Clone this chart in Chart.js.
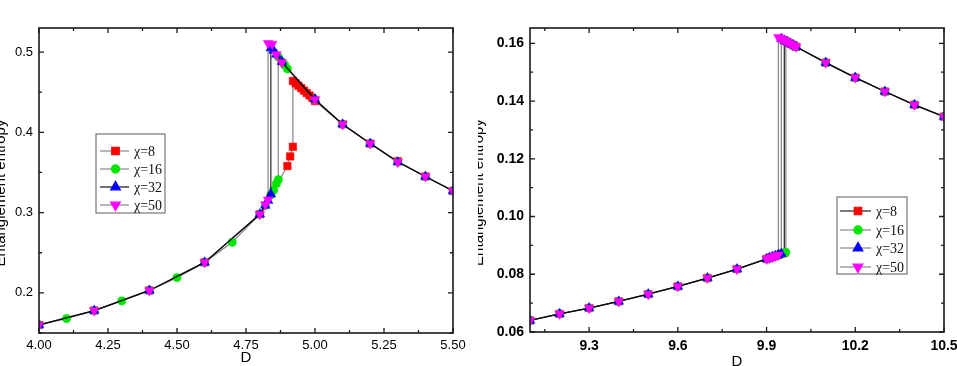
<!DOCTYPE html>
<html>
<head>
<meta charset="utf-8">
<script src="https://cdn.jsdelivr.net/npm/chart.js@4.4.0/dist/chart.umd.min.js"></script>
<style>
	body { margin: 0; background: #fff; }
	.panel { position: absolute; top: 0; height: 366px; }
</style>
</head>
<body>
<div class="panel" style="left:0;width:478px"><canvas id="leftChart" width="478" height="366"></canvas></div>
<div class="panel" style="left:478px;width:479px"><canvas id="rightChart" width="479" height="366"></canvas></div>
<script>
// ---- data ----
const seriesNames = ["χ=8", "χ=16", "χ=32", "χ=50"];

// left panel (D around 4.8)
const leftD8 = [4.0, 4.2, 4.4, 4.6, 4.8, 4.9, 4.91, 4.92, 4.92, 4.93, 4.94, 4.95, 4.96, 4.97, 4.98, 4.99, 5.0, 5.1, 5.2, 5.3, 5.4, 5.5];
const leftS8 = [0.160, 0.178, 0.203, 0.238, 0.298, 0.358, 0.370, 0.382, 0.464, 0.461, 0.458, 0.455, 0.452, 0.449, 0.446, 0.443, 0.439, 0.410, 0.386, 0.364, 0.345, 0.327];
const leftD16 = [4.0, 4.1, 4.2, 4.3, 4.4, 4.5, 4.6, 4.7, 4.8, 4.82, 4.84, 4.85, 4.86, 4.867, 4.867, 4.88, 4.89, 4.9, 5.0, 5.1, 5.2, 5.3, 5.4, 5.5];
const leftS16 = [0.160, 0.168, 0.178, 0.190, 0.203, 0.219, 0.238, 0.263, 0.298, 0.309, 0.322, 0.328, 0.336, 0.341, 0.494, 0.488, 0.484, 0.479, 0.441, 0.410, 0.386, 0.363, 0.345, 0.327];
const leftD32 = [4.0, 4.2, 4.4, 4.6, 4.8, 4.82, 4.83, 4.84, 4.84, 4.85, 4.86, 4.88, 5.0, 5.1, 5.2, 5.3, 5.4, 5.5];
const leftS32 = [0.160, 0.178, 0.203, 0.238, 0.298, 0.309, 0.315, 0.323, 0.505, 0.502, 0.497, 0.488, 0.441, 0.410, 0.386, 0.363, 0.345, 0.327];
const leftD50 = [4.0, 4.2, 4.4, 4.6, 4.8, 4.82, 4.83, 4.83, 4.845, 4.86, 4.88, 5.0, 5.1, 5.2, 5.3, 5.4, 5.5];
const leftS50 = [0.160, 0.178, 0.203, 0.238, 0.298, 0.310, 0.316, 0.511, 0.510, 0.497, 0.487, 0.441, 0.410, 0.386, 0.363, 0.345, 0.327];

// right panel (D around 9.95)
const rightD8 = [9.1, 9.2, 9.3, 9.4, 9.5, 9.6, 9.7, 9.8, 9.9, 9.91, 9.92, 9.93, 9.94, 9.95, 9.96, 9.96, 9.97, 9.98, 9.99, 10.0, 10.1, 10.2, 10.3, 10.4, 10.5];
const rightS8 = [0.0640, 0.0663, 0.0683, 0.0706, 0.0731, 0.0758, 0.0787, 0.0818, 0.0853, 0.0857, 0.0860, 0.0864, 0.0867, 0.0871, 0.0874, 0.1610, 0.1605, 0.1599, 0.1594, 0.1588, 0.1533, 0.1481, 0.1433, 0.1387, 0.1346];
const rightD16 = [9.1, 9.2, 9.3, 9.4, 9.5, 9.6, 9.7, 9.8, 9.9, 9.91, 9.92, 9.93, 9.94, 9.95, 9.96, 9.965, 9.965, 9.97, 9.98, 9.99, 10.0, 10.1, 10.2, 10.3, 10.4, 10.5];
const rightS16 = [0.0640, 0.0663, 0.0683, 0.0706, 0.0731, 0.0758, 0.0787, 0.0818, 0.0853, 0.0857, 0.0860, 0.0864, 0.0867, 0.0871, 0.0874, 0.0876, 0.1608, 0.1605, 0.1599, 0.1594, 0.1588, 0.1533, 0.1481, 0.1433, 0.1387, 0.1346];
const rightD32 = [9.1, 9.2, 9.3, 9.4, 9.5, 9.6, 9.7, 9.8, 9.9, 9.91, 9.92, 9.93, 9.94, 9.95, 9.95, 9.96, 9.97, 9.98, 9.99, 10.0, 10.1, 10.2, 10.3, 10.4, 10.5];
const rightS32 = [0.0640, 0.0663, 0.0683, 0.0706, 0.0731, 0.0758, 0.0787, 0.0818, 0.0853, 0.0857, 0.0860, 0.0864, 0.0867, 0.0871, 0.1616, 0.1610, 0.1605, 0.1599, 0.1594, 0.1588, 0.1533, 0.1481, 0.1433, 0.1387, 0.1346];
const rightD50 = [9.1, 9.2, 9.3, 9.4, 9.5, 9.6, 9.7, 9.8, 9.9, 9.91, 9.92, 9.93, 9.94, 9.94, 9.95, 9.96, 9.97, 9.98, 9.99, 10.0, 10.1, 10.2, 10.3, 10.4, 10.5];
const rightS50 = [0.0640, 0.0663, 0.0683, 0.0706, 0.0731, 0.0758, 0.0787, 0.0818, 0.0853, 0.0857, 0.0860, 0.0864, 0.0867, 0.1621, 0.1616, 0.1610, 0.1605, 0.1599, 0.1594, 0.1588, 0.1533, 0.1481, 0.1433, 0.1387, 0.1346];

// ticks
const leftXTicks = [4.0, 4.25, 4.5, 4.75, 5.0, 5.25, 5.5];
const leftXLabels = ["4.00", "4.25", "4.50", "4.75", "5.00", "5.25", "5.50"];
const leftXMinor = [4.125, 4.375, 4.625, 4.875, 5.125, 5.375];
const leftYTicks = [0.2, 0.3, 0.4, 0.5];
const leftYLabels = ["0.2", "0.3", "0.4", "0.5"];
const leftYMinor = [0.15, 0.25, 0.35, 0.45];
const rightXTicks = [9.3, 9.6, 9.9, 10.2, 10.5];
const rightXLabels = ["9.3", "9.6", "9.9", "10.2", "10.5"];
const rightXMinor = [9.15, 9.45, 9.75, 10.05, 10.35];
const rightYTicks = [0.06, 0.08, 0.10, 0.12, 0.14, 0.16];
const rightYLabels = ["0.06", "0.08", "0.10", "0.12", "0.14", "0.16"];
const rightYMinor = [0.07, 0.09, 0.11, 0.13, 0.15];

const markerColors = ["#ff0000", "#00e600", "#0000ff", "#ff00ff"];
const markerStyles = ["rect", "circle", "triangle", "triangle"];
const markerRadius = [5.3, 4.1, 5.6, 5.6];
const markerRotation = [0, 0, 0, 180];

const pairs = (xs, ys) => xs.map((x, i) => ({ x: x, y: ys[i] }));

function makeDatasets(list, lineColors) {
	return list.map((pts, i) => ({
		label: seriesNames[i],
		data: pts,
		showLine: true,
		borderColor: lineColors[i],
		borderWidth: 1.3,
		pointStyle: markerStyles[i],
		pointRadius: markerRadius[i],
		pointRotation: markerRotation[i],
		pointBackgroundColor: markerColors[i],
		pointBorderColor: markerColors[i],
		pointBorderWidth: 0.5,
		order: 4 - i,
		clip: 0,
	}));
}

// box and inward ticks on all four sides
const frameTicks = {
	id: "frameTicks",
	afterDatasetsDraw(chart, args, o) {
		const { ctx, chartArea: a } = chart;
		const xs = chart.scales.x, ys = chart.scales.y;
		ctx.save();
		ctx.strokeStyle = "#1a1a1a";
		ctx.lineWidth = 1.6;
		ctx.strokeRect(a.left, a.top, a.right - a.left, a.bottom - a.top);
		ctx.lineWidth = 1.3;
		ctx.beginPath();
		const vx = (vals, len) => vals.forEach((v) => {
			const p = xs.getPixelForValue(v);
			ctx.moveTo(p, a.bottom); ctx.lineTo(p, a.bottom - len);
			ctx.moveTo(p, a.top); ctx.lineTo(p, a.top + len);
		});
		const vy = (vals, len) => vals.forEach((v) => {
			const p = ys.getPixelForValue(v);
			ctx.moveTo(a.left, p); ctx.lineTo(a.left + len, p);
			ctx.moveTo(a.right, p); ctx.lineTo(a.right - len, p);
		});
		vx(o.xMajor, 5); vx(o.xMinor, 3);
		vy(o.yMajor, 5); vy(o.yMinor, 3);
		ctx.stroke();
		ctx.restore();
	},
};

// legend box inside the plot
const boxLegend = {
	id: "boxLegend",
	afterDraw(chart, args, o) {
		const ctx = chart.ctx;
		ctx.save();
		ctx.fillStyle = "#fff";
		ctx.fillRect(o.x, o.y, o.w, o.h);
		ctx.strokeStyle = "#777";
		ctx.lineWidth = 1.2;
		ctx.strokeRect(o.x, o.y, o.w, o.h);
		chart.data.datasets.forEach((ds, i) => {
			const ry = o.rows[i];
			ctx.strokeStyle = o.lineColors[i];
			ctx.lineWidth = 1.2;
			ctx.beginPath();
			ctx.moveTo(o.lineX0, ry);
			ctx.lineTo(o.lineX1, ry);
			ctx.stroke();
			ctx.fillStyle = markerColors[i];
			ctx.strokeStyle = markerColors[i];
			Chart.helpers.drawPoint(ctx, {
				pointStyle: markerStyles[i],
				radius: markerRadius[i],
				rotation: markerRotation[i],
				borderWidth: 0.5,
			}, o.markX, ry);
			ctx.fillStyle = "#111";
			ctx.font = "14px 'Liberation Serif', 'DejaVu Serif', serif";
			ctx.textBaseline = "middle";
			ctx.fillText(ds.label, o.textX, ry + 1);
		});
		ctx.restore();
	},
};

function axisOptions(cfg) {
	return {
		x: {
			type: "linear",
			min: cfg.xMin,
			max: cfg.xMax,
			// fixed height; let the last label run off the edge like the original
			afterFit: (s) => { s.height = cfg.xHeight; s.paddingLeft = 0; s.paddingRight = 0; },
			afterBuildTicks: (s) => { s.ticks = cfg.xTicks.map((v) => ({ value: v })); },
			grid: { display: false, drawTicks: false },
			border: { display: false },
			ticks: {
				autoSkip: false,
				maxRotation: 0,
				padding: cfg.xPad,
				color: "#000",
				font: { family: "'Liberation Sans', Arial, sans-serif", size: cfg.tickSize, weight: cfg.weight },
				callback: (v, i) => cfg.xLabels[i],
			},
			title: {
				display: true,
				text: "D",
				color: "#000",
				padding: { top: 0, bottom: cfg.dPad },
				font: { family: "'Liberation Sans', Arial, sans-serif", size: 15 },
			},
		},
		y: {
			type: "linear",
			min: cfg.yMin,
			max: cfg.yMax,
			afterFit: (s) => { s.width = cfg.yWidth; s.paddingTop = 0; s.paddingBottom = 0; },
			afterBuildTicks: (s) => { s.ticks = cfg.yTicks.map((v) => ({ value: v })); },
			grid: { display: false, drawTicks: false },
			border: { display: false },
			ticks: {
				autoSkip: false,
				padding: cfg.yPad,
				color: "#000",
				font: { family: "'Liberation Sans', Arial, sans-serif", size: cfg.tickSize, weight: cfg.weight },
				callback: (v, i) => cfg.yLabels[i],
			},
			title: {
				display: true,
				// trailing spaces nudge the visible words a little lower, as in the original
				text: "Entanglement entropy      ",
				color: "#000",
				padding: { top: -8, bottom: 0 },
				font: { family: "'Liberation Sans', Arial, sans-serif", size: 15 },
			},
		},
	};
}

const leftLines = ["rgba(0,0,0,0.45)", "rgba(0,0,0,0.45)", "rgba(0,0,0,0.8)", "rgba(0,0,0,0.45)"];
const rightLines = ["rgba(0,0,0,0.8)", "rgba(0,0,0,0.45)", "rgba(0,0,0,0.45)", "rgba(0,0,0,0.45)"];

new Chart(document.getElementById("leftChart"), {
	type: "scatter",
	data: {
		datasets: makeDatasets(
			[pairs(leftD8, leftS8), pairs(leftD16, leftS16), pairs(leftD32, leftS32), pairs(leftD50, leftS50)],
			leftLines
		),
	},
	options: {
		responsive: false,
		animation: false,
		layout: { padding: { top: 28, right: 25, left: 0, bottom: 0 } },
		scales: axisOptions({
			xMin: 4.0, xMax: 5.5, yMin: 0.15, yMax: 0.53,
			xTicks: leftXTicks, xLabels: leftXLabels, yTicks: leftYTicks, yLabels: leftYLabels,
			xHeight: 33, yWidth: 39, xPad: 5, yPad: 6, dPad: -1, weight: "normal", tickSize: 13,
		}),
		plugins: {
			legend: { display: false },
			tooltip: { enabled: false },
			frameTicks: { xMajor: leftXTicks, xMinor: leftXMinor, yMajor: leftYTicks, yMinor: leftYMinor },
			boxLegend: {
				x: 96, y: 134, w: 69, h: 79,
				rows: [151, 169, 187, 205],
				lineX0: 100, lineX1: 129, markX: 115.5, textX: 134,
				lineColors: ["#888", "#888", "#111", "#888"],
			},
		},
	},
	plugins: [frameTicks, boxLegend],
});

new Chart(document.getElementById("rightChart"), {
	type: "scatter",
	data: {
		datasets: makeDatasets(
			[pairs(rightD8, rightS8), pairs(rightD16, rightS16), pairs(rightD32, rightS32), pairs(rightD50, rightS50)],
			rightLines
		),
	},
	options: {
		responsive: false,
		animation: false,
		layout: { padding: { top: 28, right: 13, left: 0, bottom: 0 } },
		scales: axisOptions({
			xMin: 9.1, xMax: 10.5, yMin: 0.06, yMax: 0.1653,
			xTicks: rightXTicks, xLabels: rightXLabels, yTicks: rightYTicks, yLabels: rightYLabels,
			xHeight: 34, yWidth: 52, xPad: 6, yPad: 6, dPad: -5, weight: "bold", tickSize: 14,
		}),
		plugins: {
			legend: { display: false },
			tooltip: { enabled: false },
			frameTicks: { xMajor: rightXTicks, xMinor: rightXMinor, yMajor: rightYTicks, yMinor: rightYMinor },
			boxLegend: {
				x: 359, y: 197, w: 70, h: 77,
				rows: [211, 230, 248, 267],
				lineX0: 362, lineX1: 393, markX: 380, textX: 398,
				lineColors: ["#222", "#888", "#888", "#888"],
			},
		},
	},
	plugins: [frameTicks, boxLegend],
});
</script>
</body>
</html>
